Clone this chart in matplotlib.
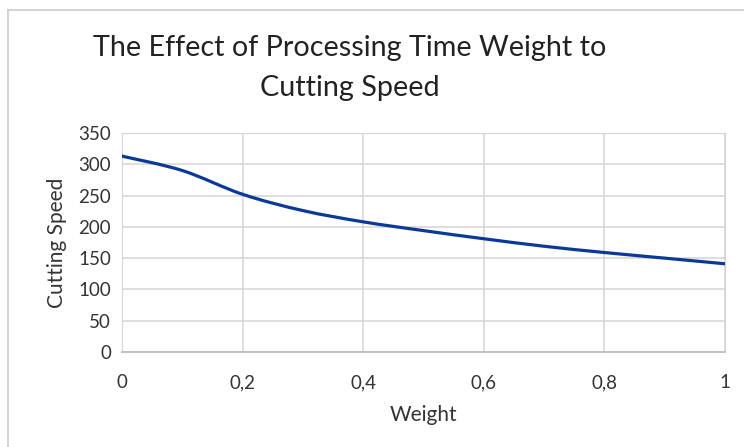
import numpy as np
import matplotlib.pyplot as plt
from matplotlib.path import Path
from matplotlib.patches import PathPatch
from matplotlib.lines import Line2D

weight = [0, 0.1, 0.2, 0.3, 0.4, 0.5, 0.6, 0.7, 0.8, 0.9, 1.0]
speed = [313, 290, 252, 226, 208, 194, 181, 169, 159, 150, 141]
xticks = [0, 0.2, 0.4, 0.6, 0.8, 1]
xlabels = ["0", "0,2", "0,4", "0,6", "0,8", "1"]
yticks = [0, 50, 100, 150, 200, 250, 300, 350]

plt.rcParams['font.family'] = ['Lato', 'DejaVu Sans']

fig = plt.figure(figsize=(7.44, 4.47), dpi=100)
ax = fig.add_axes([0.164, 0.2125, 0.8105, 0.49])

# smooth line like excel: catmull-rom control points -> bezier path
x = np.array(weight)
y = np.array(speed, dtype=float)
verts = [(x[0], y[0])]
codes = [Path.MOVETO]
for i in range(len(x) - 1):
    x0, y0 = (x[i - 1], y[i - 1]) if i > 0 else (x[i], y[i])
    x3, y3 = (x[i + 2], y[i + 2]) if i + 2 < len(x) else (x[i + 1], y[i + 1])
    c1 = (x[i] + (x[i + 1] - x0) / 6, y[i] + (y[i + 1] - y0) / 6)
    c2 = (x[i + 1] - (x3 - x[i]) / 6, y[i + 1] - (y3 - y[i]) / 6)
    verts += [c1, c2, (x[i + 1], y[i + 1])]
    codes += [Path.CURVE4] * 3
ax.add_patch(PathPatch(Path(verts, codes), facecolor='none',
                       edgecolor='#0b3a96', lw=2.3, capstyle='round', zorder=3))

ax.set_xlim(0, 1)
ax.set_ylim(0, 350)
ax.set_xticks(xticks)
ax.set_xticklabels(xlabels)
ax.set_yticks(yticks)
ax.grid(True, color='#d4d4d4', lw=1.1)
ax.set_axisbelow(True)
for s in ['top', 'right', 'left']:
    ax.spines[s].set_color('#d4d4d4')
ax.spines['bottom'].set_color('#bdbdbd')
ax.spines['bottom'].set_linewidth(1.3)
ax.tick_params(length=0, labelsize=13.5, colors='#333333', pad=8)
ax.tick_params(axis='x', pad=16)

ax.set_xlabel("Weight", fontsize=15, color='#333333', labelpad=10)
ax.set_ylabel("Cutting Speed", fontsize=15, color='#333333', labelpad=8)

fig.text(350 / 744, 1 - 48 / 447, "The Effect of Processing Time Weight to",
         ha='center', va='center', fontsize=20.7, color='#222222')
fig.text(350 / 744, 1 - 88 / 447, "Cutting Speed",
         ha='center', va='center', fontsize=20.7, color='#222222')

# outer chart frame
fig.add_artist(Line2D([8 / 744, 8 / 744], [0, 1 - 10 / 447], color='#cccccc', lw=1.2))
fig.add_artist(Line2D([8 / 744, 1], [1 - 10 / 447, 1 - 10 / 447], color='#cccccc', lw=1.2))

fig.savefig("out.png", dpi=100)
